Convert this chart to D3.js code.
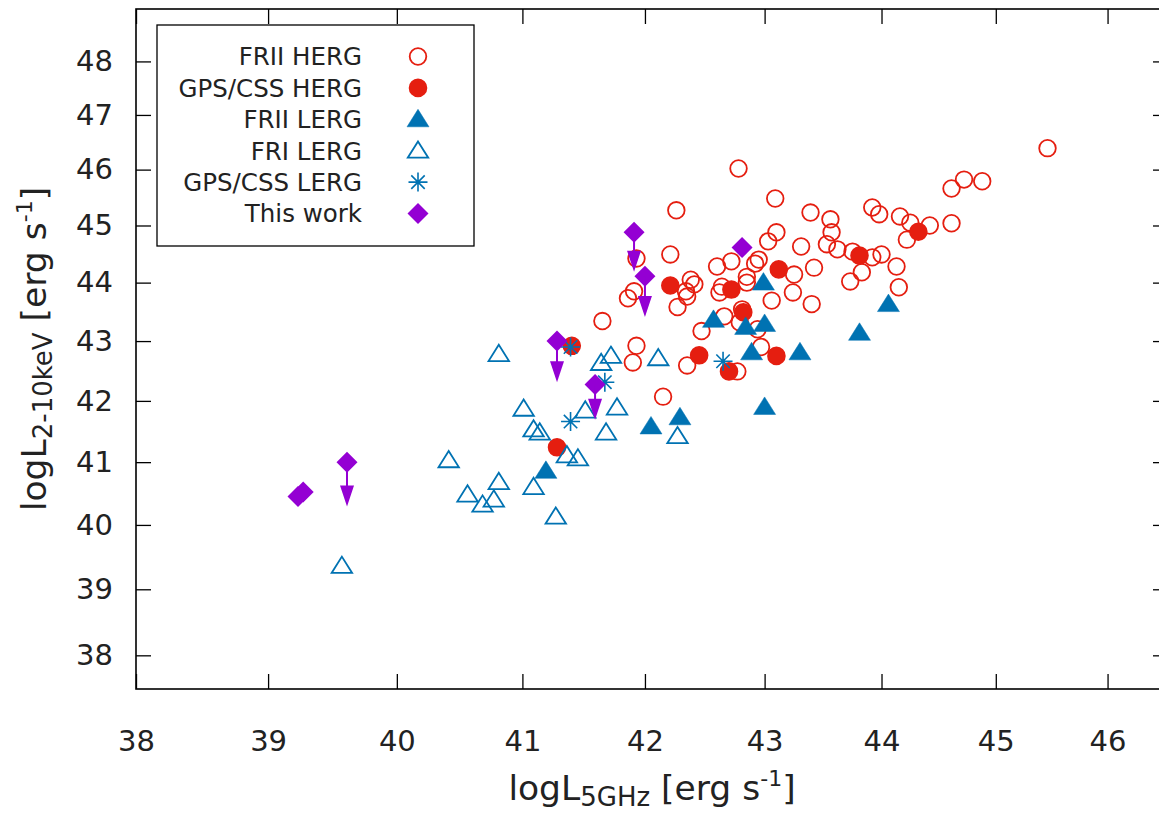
<!DOCTYPE html>
<html><head><meta charset="utf-8">
<script src="https://cdn.jsdelivr.net/npm/d3@7/dist/d3.min.js"></script>
<style>body{margin:0;background:#fff}svg text{font-family:"DejaVu Sans",sans-serif;fill:#222}</style>
</head><body><svg id="c" width="1159" height="813"></svg>
<script>
// ---- tick labels ----
const xTicks = [38, 39, 40, 41, 42, 43, 44, 45, 46];
const yTicks = [38, 39, 40, 41, 42, 43, 44, 45, 46, 47, 48];
const xDomain = [38, 46.55];
const yDomain = [37.5, 49];

// ---- FRII HERG (open red circles) ----
const friiHergX = [45.46,42.78,43.09,42.26,43.39,43.56,43.57,43.53,43.62,43.75,43.92,43.98,44.16,44.25,44.42,44.61,44.22,44.61,44.72,44.88,43.10,43.03,43.31,44.00,43.92,44.13,43.83,43.73,44.15,43.42,43.25,43.24,43.40,43.06,42.21,41.93,41.91,41.86,41.65,42.60,42.72,42.95,42.92,42.85,42.85,42.38,42.41,42.34,42.35,42.27,42.64,42.62,42.66,42.81,42.79,42.47,42.94,42.97,41.93,41.90,42.35,42.77,42.15];
const friiHergY = [46.39,46.02,45.48,45.27,45.23,45.11,44.88,44.67,44.58,44.54,45.32,45.20,45.16,45.05,45.00,45.04,44.75,45.66,45.82,45.79,44.88,44.72,44.63,44.49,44.44,44.28,44.18,44.02,43.92,44.26,44.14,43.83,43.63,43.69,44.49,44.42,43.85,43.73,43.34,44.28,44.37,44.40,44.33,44.10,44.00,44.05,43.97,43.85,43.76,43.58,43.93,43.83,43.42,43.54,43.32,43.17,43.20,42.90,42.92,42.64,42.59,42.49,42.07];

// ---- GPS/CSS HERG (filled red circles) ----
const gpsHergX = [41.28,41.40,42.21,42.72,43.12,42.82,42.45,43.10,42.70,43.81,44.32];
const gpsHergY = [41.24,42.92,43.95,43.88,44.23,43.49,42.76,42.75,42.49,44.47,44.89];

// ---- FRII LERG (filled blue triangles) ----
const friiLergX = [41.19,42.05,42.29,42.57,42.84,43.00,42.89,43.30,43.00,43.81,44.06,42.99];
const friiLergY = [40.86,41.58,41.73,43.36,43.24,43.29,42.81,42.81,41.90,43.14,43.63,44.00];

// ---- FRI LERG (open blue triangles) ----
const friLergX = [40.81,41.64,41.72,42.11,41.01,41.09,41.14,41.51,41.77,41.68,42.27,41.36,41.45,40.41,40.81,40.56,40.68,40.77,41.09,41.27,39.57];
const friLergY = [42.78,42.63,42.75,42.71,41.87,41.53,41.48,41.84,41.89,41.48,41.42,41.11,41.06,41.03,40.68,40.48,40.32,40.40,40.60,40.13,39.36];

// ---- GPS/CSS LERG (blue asterisks) ----
const gpsLergX = [41.39,41.67,41.39,42.65];
const gpsLergY = [42.90,42.31,41.66,42.66];

// ---- This work (purple diamonds; upper limits where limitY is set) ----
const thisX = [39.23,39.27,39.61,41.28,41.59,41.91,42.00,42.81];
const thisY = [40.45,40.52,41.00,43.00,42.27,44.88,44.11,44.61];
const thisLimitY = [null,null,40.29,42.31,41.69,44.19,43.41,null];

const legendLabels = ["FRII HERG","GPS/CSS HERG","FRII LERG","FRI LERG","GPS/CSS LERG","This work"];

const RED = "#e51e10", BLUE = "#0072b2", PURPLE = "#9400d3";

const svg = d3.select("#c");
const L = 136, R = 1168, T = 9, B = 689;
const x = d3.scaleLog().domain(xDomain).range([L, R]);
const y = d3.scaleLog().domain(yDomain).range([B, T]);

const fmt = d => String(d);
const tl = 15;
// axes
const gB = svg.append("g").attr("transform", `translate(0,${B})`)
  .call(d3.axisBottom(x).tickValues(xTicks).tickFormat(fmt).tickSizeInner(-tl).tickSizeOuter(0));
const gT = svg.append("g").attr("transform", `translate(0,${T})`)
  .call(d3.axisTop(x).tickValues(xTicks).tickFormat("").tickSizeInner(-tl).tickSizeOuter(0));
const gL = svg.append("g").attr("transform", `translate(${L},0)`)
  .call(d3.axisLeft(y).tickValues(yTicks).tickFormat(fmt).tickSizeInner(-tl).tickSizeOuter(0));
const gR = svg.append("g").attr("transform", `translate(${R},0)`)
  .call(d3.axisRight(y).tickValues(yTicks).tickFormat("").tickSizeInner(-tl).tickSizeOuter(0));
[gB, gT, gL, gR].forEach(g => {
  g.select(".domain").remove();
  g.selectAll(".tick line").attr("stroke", "#000").attr("stroke-width", 1.3);
  g.selectAll(".tick text").attr("font-size", 29).attr("fill", "#222").attr("font-family", '"DejaVu Sans",sans-serif');
});
gB.selectAll(".tick text").attr("y", 41);
gL.selectAll(".tick text").attr("x", -23);
svg.append("rect").attr("x", L).attr("y", T).attr("width", R - L).attr("height", B - T)
  .attr("fill", "none").attr("stroke", "#000").attr("stroke-width", 1.6);

// marker shapes
const shapes = {
  circle: s => d3.symbol(d3.symbolCircle, Math.PI * s * s)(),
  tri: s => `M0,${-s}L${s * 1.1},${s * 0.75}L${-s * 1.1},${s * 0.75}Z`,
  star: s => {
    const d = s * 0.707;
    return `M0,${-s}V${s}M${-s},0H${s}M${-d},${-d}L${d},${d}M${-d},${d}L${d},${-d}`;
  },
  diamond: s => `M0,${-s}L${s},0L0,${s}L${-s},0Z`
};
const styles = [
  {shape: "circle", size: 8.3, fill: "none", stroke: RED, sw: 1.8},
  {shape: "circle", size: 9.3, fill: RED, stroke: RED, sw: 0},
  {shape: "tri", size: 10, fill: BLUE, stroke: BLUE, sw: 0.5},
  {shape: "tri", size: 9.3, fill: "none", stroke: BLUE, sw: 1.8},
  {shape: "star", size: 9.5, fill: "none", stroke: BLUE, sw: 1.6},
  {shape: "diamond", size: 10.5, fill: PURPLE, stroke: PURPLE, sw: 0}
];
function draw(g, st, cx, cy) {
  g.append("path").attr("transform", `translate(${cx},${cy})`)
    .attr("d", shapes[st.shape](st.size))
    .attr("fill", st.fill).attr("stroke", st.stroke).attr("stroke-width", st.sw);
}
const plot = svg.append("g");
const series = [[friiHergX, friiHergY], [gpsHergX, gpsHergY], [friiLergX, friiLergY], [friLergX, friLergY], [gpsLergX, gpsLergY], [thisX, thisY]];
series.forEach((s, i) => {
  const g = plot.append("g");
  s[0].forEach((xv, j) => draw(g, styles[i], x(xv), y(s[1][j])));
});
// upper-limit arrows for this work
const ga = plot.append("g");
thisX.forEach((xv, j) => {
  if (thisLimitY[j] == null) return;
  const px = x(xv), py0 = y(thisY[j]), py1 = y(thisLimitY[j]);
  const hl = 21, hw = 7;
  ga.append("line").attr("x1", px).attr("x2", px).attr("y1", py0).attr("y2", py1 - hl + 2)
    .attr("stroke", PURPLE).attr("stroke-width", 2);
  ga.append("path").attr("d", `M${px - hw},${py1 - hl}L${px + hw},${py1 - hl}L${px},${py1}Z`).attr("fill", PURPLE);
});

// legend
const lg = svg.append("g");
lg.append("rect").attr("x", 157).attr("y", 25).attr("width", 317).attr("height", 221)
  .attr("fill", "#fff").attr("stroke", "#000").attr("stroke-width", 1.3);
legendLabels.forEach((lab, i) => {
  const cy = 56.5 + i * 31.4;
  lg.append("text").attr("x", 362).attr("y", cy).attr("dy", "0.36em").attr("text-anchor", "end")
    .attr("font-size", 24.5).text(lab);
  draw(lg, styles[i], 418, cy);
});

// axis titles
const xt = svg.append("text").attr("x", (L + 1168) / 2).attr("y", 800).attr("text-anchor", "middle").attr("font-size", 34.5);
xt.append("tspan").text("logL");
xt.append("tspan").attr("font-size", 26).attr("dy", 6).text("5GHz");
xt.append("tspan").attr("dy", -6).text(" [erg s");
xt.append("tspan").attr("font-size", 22).attr("dy", -14).text("-1");
xt.append("tspan").attr("dy", 14).text("]");

const yt = svg.append("text").attr("transform", `translate(46,${(T + B) / 2}) rotate(-90)`)
  .attr("text-anchor", "middle").attr("font-size", 34.5);
yt.append("tspan").text("logL");
yt.append("tspan").attr("font-size", 26).attr("dy", 6).text("2-10keV");
yt.append("tspan").attr("dy", -6).text(" [erg s");
yt.append("tspan").attr("font-size", 22).attr("dy", -14).text("-1");
yt.append("tspan").attr("dy", 14).text("]");
</script></body></html>
